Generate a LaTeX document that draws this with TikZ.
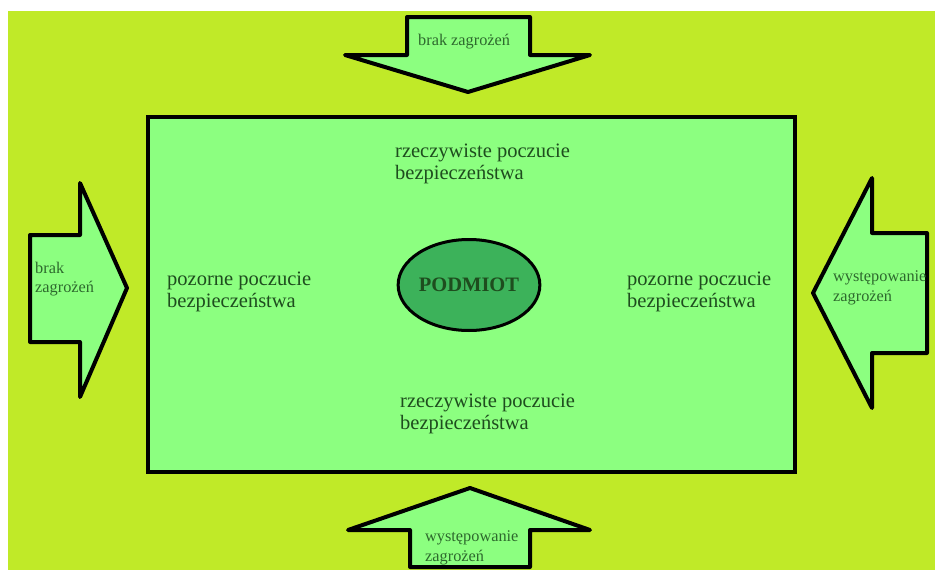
\documentclass[tikz,border=0pt]{standalone}
\usepackage{fontspec}
\setmainfont{Liberation Serif}
\usetikzlibrary{shapes.geometric}
\definecolor{bglime}{RGB}{192,234,40}
\definecolor{boxgreen}{RGB}{140,255,128}
\definecolor{subjgreen}{RGB}{60,178,90}
\definecolor{txtgreen}{RGB}{30,77,30}
\definecolor{arrtxt}{RGB}{45,105,45}
\begin{document}
\begin{tikzpicture}[x=1pt,y=-1pt,
  arr/.style={draw, line width=4pt, fill=boxgreen, line join=round},
  lbl/.style={text=txtgreen, font=\fontsize{20.5}{22.5}\selectfont, align=left, inner sep=0pt, anchor=west},
  albl/.style={text=arrtxt, font=\fontsize{16.3}{19.5}\selectfont, align=left, inner sep=0pt, anchor=west}]
\useasboundingbox (0,0) rectangle (935,570);
\fill[white] (0,0) rectangle (935,570);
\fill[bglime] (8,11) rectangle (935,570);
% main field
\draw[line width=4.5pt, fill=boxgreen] (148,117) rectangle (795,472);
% arrows
\draw[arr] (407,17) -- (530,17) -- (530,55) -- (590,55) -- (468,92) -- (345,55) -- (407,55) -- cycle;
\draw[arr] (30,235) -- (80,235) -- (80,183) -- (127,288) -- (80,397) -- (80,342) -- (30,342) -- cycle;
\draw[arr] (927,233) -- (872,233) -- (872,178) -- (813,293) -- (872,408) -- (872,353) -- (927,353) -- cycle;
\draw[arr] (410,567) -- (530,567) -- (530,530) -- (590,530) -- (470,488) -- (348,530) -- (410,530) -- cycle;
% subject
\node[ellipse, draw, line width=3pt, fill=subjgreen, minimum width=116pt, minimum height=91pt, inner sep=0pt,
  text=txtgreen, font=\fontsize{20.5}{22}\selectfont\bfseries] (podmiot) at (469,285) {PODMIOT};
% field labels
\node[lbl] (realtop) at (395,164) {rzeczywiste poczucie\\bezpiecze\'nstwa};
\node[lbl] (realbot) at (400,414) {rzeczywiste poczucie\\bezpiecze\'nstwa};
\node[lbl] (apparleft) at (167,292) {pozorne poczucie\\bezpiecze\'nstwa};
\node[lbl] (apparright) at (627,292) {pozorne poczucie\\bezpiecze\'nstwa};
% arrow labels
\node[albl] (notop) at (418,42) {brak zagrożeń};
\node[albl] (noleft) at (35,279) {brak\\zagrożeń};
\node[albl] (yesright) at (833,288) {występowanie\\zagrożeń};
\node[albl] (yesbot) at (425,548) {występowanie\\zagrożeń};
\end{tikzpicture}
\end{document}
